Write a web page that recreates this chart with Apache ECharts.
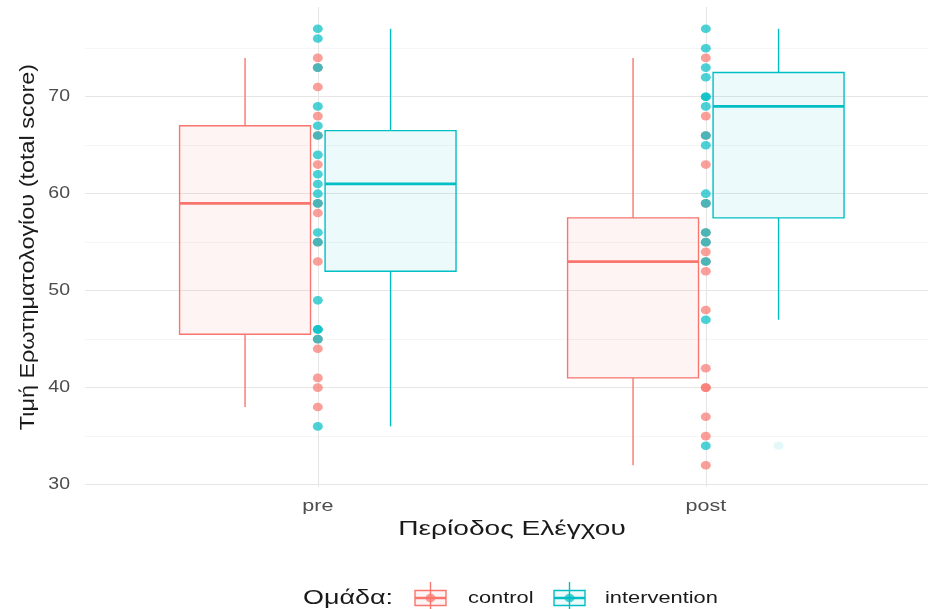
<!DOCTYPE html>
<html>
<head>
<meta charset="utf-8">
<script src="https://cdn.jsdelivr.net/npm/echarts@6/dist/echarts.min.js"></script>
<style>html,body{margin:0;padding:0;background:#fff}#c{width:928px;height:609px}</style>
</head>
<body>
<div id="c"></div>
<script>
// ---- data ----
const categories = ['pre', 'post'];
const groups = ['control', 'intervention'];
const colors = ['#F8766D', '#00BFC4'];
const xTitle = 'Περίοδος Ελέγχου';
const yTitle = 'Τιμή Ερωτηματολογίου (total score)';
const legendTitle = 'Ομάδα:';
// box stats per category: [lowerWhisker, Q1, median, Q3, upperWhisker]
const boxControl = [[38, 45.5, 59, 67, 74], [32, 41, 53, 57.5, 74]];
const boxIntervention = [[36, 52, 61, 66.5, 77], [47, 57.5, 69, 72.5, 77]];
const outlierIntervention = [[], [34]];
const outlierControl = [[], []];
// raw points per category
const controlPre = [74, 73, 71, 68, 66, 63, 59, 58, 55, 53, 45, 44, 41, 40, 38];
const controlPost = [74, 68, 66, 63, 59, 56, 55, 54, 53, 52, 48, 42, 40, 40, 37, 35, 32];
const interventionPre = [77, 76, 73, 69, 67, 66, 64, 62, 61, 60, 59, 56, 55, 49, 46, 46, 45, 36];
const interventionPost = [77, 75, 73, 72, 70, 70, 69, 66, 65, 60, 59, 56, 55, 53, 47, 34];
const yTicks = [30, 40, 50, 60, 70];
const yMinor = [35, 45, 55, 65, 75];

// ---- build ----
const dodge = 0.1875, halfBox = 0.16875;
// panel is cut at the right edge: x range 0.4 .. 2.6, visible part up to ~2.573
const xMin = 0.4, xMax = 0.4 + 843 / 388;
function boxData(stats, off) { return stats.map((s, i) => [i + 1 + off].concat(s)); }
function pts(arrs) { const o = []; arrs.forEach((a, i) => a.forEach(v => o.push([i + 1, v]))); return o; }
function outl(arrs, off) { const o = []; arrs.forEach((a, i) => a.forEach(v => o.push([i + 1 + off, v]))); return o; }
function renderBox(color, fill) {
  return function (params, api) {
    const x = api.value(0);
    const lo = api.coord([x, api.value(1)]);
    const q1 = api.coord([x, api.value(2)]);
    const md = api.coord([x, api.value(3)]);
    const q3 = api.coord([x, api.value(4)]);
    const hi = api.coord([x, api.value(5)]);
    const hw = api.size([halfBox, 0])[0];
    const cx = lo[0];
    const ls = {stroke: color, lineWidth: 1.4};
    return {type: 'group', children: [
      {type: 'line', shape: {x1: cx, y1: hi[1], x2: cx, y2: q3[1]}, style: ls},
      {type: 'line', shape: {x1: cx, y1: q1[1], x2: cx, y2: lo[1]}, style: ls},
      {type: 'rect', shape: {x: cx - hw, y: q3[1], width: 2 * hw, height: q1[1] - q3[1]},
        style: {fill: fill, stroke: color, lineWidth: 1.4}},
      {type: 'line', shape: {x1: cx - hw, y1: md[1], x2: cx + hw, y2: md[1]},
        style: {stroke: color, lineWidth: 2.8}}
    ]};
  };
}

const chart = echarts.init(document.getElementById('c'), null, {renderer: 'canvas'});
const gridMajor = '#e6e6e6', gridMinor = '#f2f2f2';
const markLines = [];
yTicks.forEach(v => markLines.push({yAxis: v, lineStyle: {color: gridMajor, width: 1.1, type: 'solid'}}));
yMinor.forEach(v => markLines.push({yAxis: v, lineStyle: {color: gridMinor, width: 0.8, type: 'solid'}}));
[1, 2].forEach(v => markLines.push({xAxis: v, lineStyle: {color: gridMajor, width: 1.1, type: 'solid'}}));

const font = 'Liberation Sans';
const ptSize = [10, 8.6];
chart.setOption({
  animation: false,
  textStyle: {fontFamily: font},
  grid: {left: 85, top: 7, right: 0, bottom: 122},
  xAxis: {type: 'value', min: xMin, max: xMax,
    axisLine: {show: false}, axisTick: {show: false}, splitLine: {show: false}, axisLabel: {show: false}},
  yAxis: {type: 'value', min: 29.75, max: 79.25,
    axisLine: {show: false}, axisTick: {show: false}, splitLine: {show: false}, axisLabel: {show: false}},
  series: [
    {type: 'line', data: [], silent: true, z: 0,
      markLine: {silent: true, z: 0, symbol: 'none', label: {show: false}, animation: false, data: markLines}},
    {type: 'custom', name: 'control-box', data: boxData(boxControl, -dodge),
      renderItem: renderBox(colors[0], 'rgba(248,118,109,0.08)'), z: 8},
    {type: 'custom', name: 'intervention-box', data: boxData(boxIntervention, dodge),
      renderItem: renderBox(colors[1], 'rgba(0,191,196,0.07)'), z: 8},
    {type: 'scatter', name: 'control-outliers', data: outl(outlierControl, -dodge), symbolSize: ptSize,
      itemStyle: {color: colors[0], opacity: 0.1}, z: 9},
    {type: 'scatter', name: 'intervention-outliers', data: outl(outlierIntervention, dodge), symbolSize: ptSize,
      itemStyle: {color: colors[1], opacity: 0.1}, z: 9},
    {type: 'scatter', name: 'control', data: pts([controlPre, controlPost]), symbolSize: ptSize,
      itemStyle: {color: colors[0], opacity: 0.7}, z: 10},
    {type: 'scatter', name: 'intervention', data: pts([interventionPre, interventionPost]), symbolSize: ptSize,
      itemStyle: {color: colors[1], opacity: 0.7}, z: 11}
  ]
});

// ---- texts (tick labels, titles, legend) placed through the axes' scales ----
const toPx = (x, y) => chart.convertToPixel({xAxisIndex: 0, yAxisIndex: 0}, [x, y]);
const tickFont = '15.6px "Liberation Sans"';
const titleFont = '19.5px "Liberation Sans"';
const g = [];
yTicks.forEach(v => {
  const p = toPx(xMin, v);
  g.push({type: 'text', x: p[0] - 15, y: p[1], scaleX: 1.25, silent: true,
    style: {text: String(v), font: tickFont, fill: '#4d4d4d', align: 'right', verticalAlign: 'middle'}});
});
const bottomPx = toPx(xMin, 29.75)[1];
categories.forEach((c, i) => {
  const p = toPx(i + 1, 29.75);
  g.push({type: 'text', x: p[0], y: bottomPx + 20, scaleX: 1.38, silent: true,
    style: {text: c, font: tickFont, fill: '#4d4d4d', align: 'center', verticalAlign: 'middle'}});
});
g.push({type: 'text', x: 512, y: bottomPx + 43, scaleX: 1.44, silent: true,
  style: {text: xTitle, font: titleFont, fill: '#1a1a1a', align: 'center', verticalAlign: 'middle'}});
const midY = (toPx(1, 29.75)[1] + toPx(1, 79.25)[1]) / 2;
g.push({type: 'text', x: 29, y: midY, rotation: Math.PI / 2, scaleX: 1.2, silent: true,
  style: {text: yTitle, font: titleFont, fill: '#1a1a1a', align: 'center', verticalAlign: 'middle'}});
// legend
g.push({type: 'text', x: 303, y: 599, scaleX: 1.38, silent: true,
  style: {text: legendTitle, font: titleFont, fill: '#1a1a1a', align: 'left', verticalAlign: 'middle'}});
const keyX = [414, 553], labX = [468, 605];
const fills = ['rgba(248,118,109,0.08)', 'rgba(0,191,196,0.07)'];
groups.forEach((name, i) => {
  g.push({type: 'group', x: keyX[i], y: 598, silent: true, children: [
    {type: 'line', shape: {x1: 16.5, y1: -16, x2: 16.5, y2: 12}, style: {stroke: colors[i], lineWidth: 1.4}},
    {type: 'rect', shape: {x: 1, y: -7.5, width: 31, height: 15}, style: {fill: fills[i], stroke: colors[i], lineWidth: 1.4}},
    {type: 'line', shape: {x1: 1, y1: 0, x2: 32, y2: 0}, style: {stroke: colors[i], lineWidth: 2.5}},
    {type: 'ellipse', shape: {cx: 16.5, cy: 0, rx: ptSize[0] / 2, ry: ptSize[1] / 2}, style: {fill: colors[i], opacity: 0.7}}
  ]});
  g.push({type: 'text', x: labX[i], y: 599, scaleX: 1.4, silent: true,
    style: {text: name, font: tickFont, fill: '#1a1a1a', align: 'left', verticalAlign: 'middle'}});
});
chart.setOption({graphic: g});
</script>
</body>
</html>
